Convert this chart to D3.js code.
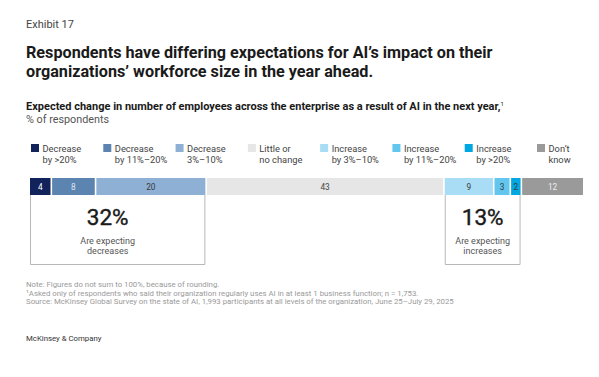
<!DOCTYPE html>
<html>
<head>
<meta charset="utf-8">
<script src="https://cdn.jsdelivr.net/npm/d3@7"></script>
<style>
  html, body { margin: 0; padding: 0; background: #fff; }
  svg { display: block; }
  text { font-family: Roboto, "Liberation Sans", sans-serif; }
</style>
</head>
<body>
<script>
// ---------- data ----------
const exhibitLabel = "Exhibit 17";
const titleLines = [
  "Respondents have differing expectations for AI\u2019s impact on their",
  "organizations\u2019 workforce size in the year ahead."
];
const subtitle = "Expected change in number of employees across the enterprise as a result of AI in the next year,";
const subtitleSup = "1";
const unitLabel = "% of respondents";

const categories = [
  "Decrease by >20%", "Decrease by 11%\u201320%", "Decrease 3%\u201310%", "Little or no change",
  "Increase by 3%\u201310%", "Increase by 11%\u201320%", "Increase by >20%", "Don\u2019t know"
];
const legendLine1 = ["Decrease", "Decrease", "Decrease", "Little or", "Increase", "Increase", "Increase", "Don\u2019t"];
const legendLine2 = ["by >20%", "by 11%\u201320%", "3%\u201310%", "no change", "by 3%\u201310%", "by 11%\u201320%", "by >20%", "know"];
const values = [4, 8, 20, 43, 9, 3, 2, 12];
const scaleMax = [0, 100];

const calloutTotals = ["32%", "13%"];
const calloutLine1 = ["Are expecting", "Are expecting"];
const calloutLine2 = ["decreases", "increases"];
const calloutFirstIdx = [0, 4];
const calloutLastIdx = [2, 6];

const notes = [
  "Note: Figures do not sum to 100%, because of rounding.",
  "\u00B9Asked only of respondents who said their organization regularly uses AI in at least 1 business function; n = 1,753.",
  " Source: McKinsey Global Survey on the state of AI, 1,993 participants at all levels of the organization, June 25\u2013July 29, 2025"
];
const brand = "McKinsey & Company";

// ---------- styles ----------
const colors = ["#12225a", "#5c84b1", "#8eb0d4", "#e6e6e6", "#a9ddf6", "#62c6ef", "#00a7e1", "#9a9a9a"];
const labelColors = ["#ffffff", "#dfe6ef", "#3a3a3a", "#444444", "#3a3a3a", "#3a3a3a", "#3a3a3a", "#eeeeee"];

// ---------- layout ----------
const W = 599, H = 377;
const svg = d3.select("body").append("svg").attr("width", W).attr("height", H);

svg.append("text").attr("x", 26).attr("y", 28).attr("font-size", 11).attr("fill", "#444")
  .text(exhibitLabel);

svg.selectAll("text.title").data(titleLines).join("text").attr("class", "title")
  .attr("x", 26).attr("y", (d, i) => 58 + i * 19)
  .attr("font-size", 16.2).attr("font-weight", 700).attr("fill", "#1a1a1a")
  .text(d => d);

const sub = svg.append("text").attr("x", 26).attr("y", 110)
  .attr("font-size", 11).attr("font-weight", 700).attr("fill", "#1a1a1a");
sub.append("tspan").text(subtitle);
sub.append("tspan").attr("font-size", 6).attr("dy", -4).attr("font-weight", 400).text(subtitleSup);

svg.append("text").attr("x", 26).attr("y", 122.5).attr("font-size", 10.8).attr("fill", "#555")
  .text(unitLabel);

// legend
const legX = d3.scalePoint().domain(categories).range([31, 537]);
const leg = svg.selectAll("g.leg").data(categories).join("g").attr("class", "leg")
  .attr("transform", d => `translate(${legX(d)},0)`);
leg.append("rect").attr("x", 0).attr("y", 144).attr("width", 8).attr("height", 8)
  .attr("fill", (d, i) => colors[i]);
leg.append("text").attr("x", 11.5).attr("y", 151.5).attr("font-size", 9.3).attr("fill", "#444")
  .text((d, i) => legendLine1[i]);
leg.append("text").attr("x", 11.5).attr("y", 162.5).attr("font-size", 9.3).attr("fill", "#444")
  .text((d, i) => legendLine2[i]);

// bar (percentage scale, clamped since figures sum to 101 due to rounding)
const x = d3.scaleLinear().domain(scaleMax).range([30, 583]).clamp(true);
const cum = values.map((v, i) => d3.sum(values.slice(0, i)));
const barY = 178, barH = 17, gap = 1.6;

svg.selectAll("rect.seg").data(values).join("rect").attr("class", "seg")
  .attr("x", (d, i) => x(cum[i]))
  .attr("y", barY)
  .attr("width", (d, i) => x(cum[i] + d) - x(cum[i]) - (i < values.length - 1 ? gap : 0))
  .attr("height", barH)
  .attr("fill", (d, i) => colors[i]);

svg.selectAll("text.seglab").data(values).join("text").attr("class", "seglab")
  .attr("x", (d, i) => (x(cum[i]) + x(cum[i] + d) - (i < values.length - 1 ? gap : 0)) / 2)
  .attr("y", barY + 12)
  .attr("text-anchor", "middle").attr("font-size", 8.3)
  .attr("fill", (d, i) => labelColors[i])
  .text(d => d);

// callouts
const boxBottom = 264;
calloutTotals.forEach((t, k) => {
  const x0 = x(cum[calloutFirstIdx[k]]);
  const x1 = x(cum[calloutLastIdx[k]] + values[calloutLastIdx[k]]) - gap;
  svg.append("path")
    .attr("d", `M${x0 + 0.5},${barY + barH} V${boxBottom + 0.5} H${x1 - 0.5} V${barY + barH}`)
    .attr("fill", "none").attr("stroke", "#b8b8b8").attr("stroke-width", 1);
  const cx = k === 0 ? (x0 + x1) / 2 - 10 : (x0 + x1) / 2;
  svg.append("text").attr("x", cx).attr("y", 224.5).attr("text-anchor", "middle")
    .attr("font-family", "'Liberation Serif', 'DejaVu Serif', serif")
    .attr("font-size", 22.5).attr("fill", "#1a1a1a").attr("stroke", "#1a1a1a").attr("stroke-width", 0.4)
    .text(t);
  svg.append("text").attr("x", cx).attr("y", 243.5).attr("text-anchor", "middle")
    .attr("font-size", 9).attr("fill", "#555").text(calloutLine1[k]);
  svg.append("text").attr("x", cx).attr("y", 253.5).attr("text-anchor", "middle")
    .attr("font-size", 9).attr("fill", "#555").text(calloutLine2[k]);
});

// notes
svg.selectAll("text.note").data(notes).join("text").attr("class", "note")
  .attr("x", 26).attr("y", (d, i) => 287 + i * 8.6)
  .attr("font-size", 7.8).attr("fill", "#9a9a9a")
  .text(d => d);

svg.append("text").attr("x", 26).attr("y", 341).attr("font-size", 7.8).attr("fill", "#333")
  .text(brand);
</script>
</body>
</html>
